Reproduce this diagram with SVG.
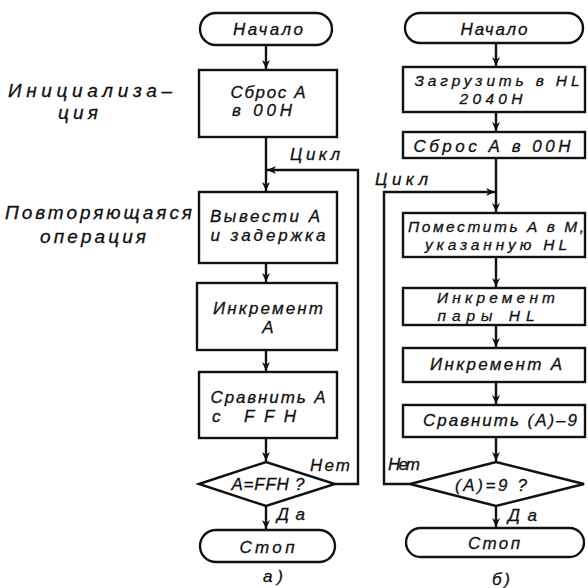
<svg xmlns="http://www.w3.org/2000/svg" width="588" height="588" viewBox="0 0 588 588">
<style>
.s{fill:none;stroke:#111;stroke-width:2.4}
.n{fill:#fff;stroke:#111;stroke-width:2.4}
text{font-family:"Liberation Sans",Arial,sans-serif;font-style:italic;font-size:17px;fill:#111;stroke:#111;stroke-width:0.3}
.c{text-anchor:middle}
.l{font-size:19px}
.t{font-size:15.5px}
</style>
<defs>
<marker id="a" viewBox="0 0 10 10" refX="10" refY="5" markerWidth="10" markerHeight="9" markerUnits="userSpaceOnUse" orient="auto">
<path d="M0,0.5 L10,5 L0,9.5 L3,5 Z" fill="#111"/>
</marker>
</defs>
<rect width="588" height="588" fill="#fff"/>

<g id="connectors">
<path class="s" d="M266,45 V69" marker-end="url(#a)"/>
<path class="s" d="M266,137 V191" marker-end="url(#a)"/>
<path class="s" d="M335,484 H358 V170 H267" marker-end="url(#a)"/>
<path class="s" d="M266,263 V282" marker-end="url(#a)"/>
<path class="s" d="M266,350 V371" marker-end="url(#a)"/>
<path class="s" d="M266,438 V461" marker-end="url(#a)"/>
<path class="s" d="M266,506 V529" marker-end="url(#a)"/>

<path class="s" d="M496,43 V66" marker-end="url(#a)"/>
<path class="s" d="M496,112 V131" marker-end="url(#a)"/>
<path class="s" d="M496,158 V212" marker-end="url(#a)"/>
<path class="s" d="M410,484 H384 V192 H495" marker-end="url(#a)"/>
<path class="s" d="M496,257 V287" marker-end="url(#a)"/>
<path class="s" d="M496,325 V347" marker-end="url(#a)"/>
<path class="s" d="M496,382 V404" marker-end="url(#a)"/>
<path class="s" d="M496,437 V461" marker-end="url(#a)"/>
<path class="s" d="M496,506 V527" marker-end="url(#a)"/>
</g>

<g id="labels">
<text class="l" x="8" y="97" textLength="164" lengthAdjust="spacing">Инициализа–</text>
<text class="l" x="58" y="119" textLength="40" lengthAdjust="spacing">ция</text>
<text class="l" x="5" y="219" textLength="187" lengthAdjust="spacing">Повторяющаяся</text>
<text class="l" x="40" y="243" textLength="106" lengthAdjust="spacing">операция</text>
<text x="290" y="160" textLength="50" lengthAdjust="spacing">Цикл</text>
<text x="310" y="471" textLength="40" lengthAdjust="spacing">Нет</text>
<text x="277" y="520" textLength="28" lengthAdjust="spacing">Да</text>
<text x="263" y="582" textLength="20" lengthAdjust="spacing">а)</text>
<text x="375" y="185" textLength="53" lengthAdjust="spacing">Цикл</text>
<text x="388" y="470" textLength="32" lengthAdjust="spacing">Нет</text>
<text x="508" y="521" textLength="29" lengthAdjust="spacing">Да</text>
<text x="492" y="585" textLength="18" lengthAdjust="spacing">б)</text>
</g>

<g id="a-start">
<rect class="n" x="200" y="13" width="132" height="32" rx="16"/>
<text class="c" x="268" y="35" textLength="70" lengthAdjust="spacing">Начало</text>
</g>
<g id="a-reset">
<rect class="n" x="199" y="70" width="138" height="67"/>
<text class="c" x="268" y="98" textLength="75" lengthAdjust="spacing">Сброс А</text>
<text class="c" x="262" y="116" textLength="60" lengthAdjust="spacing">в 00Н</text>
</g>
<g id="a-output">
<rect class="n" x="199" y="192" width="138" height="71"/>
<text class="c" x="265" y="222" textLength="110" lengthAdjust="spacing">Вывести А</text>
<text class="c" x="268" y="241" textLength="115" lengthAdjust="spacing">и задержка</text>
</g>
<g id="a-inc">
<rect class="n" x="197" y="283" width="140" height="67"/>
<text class="c" x="268" y="314" textLength="110" lengthAdjust="spacing">Инкремент</text>
<text class="c" x="268" y="333">А</text>
</g>
<g id="a-cmp">
<rect class="n" x="199" y="372" width="138" height="66"/>
<text class="c" x="268" y="403" textLength="115" lengthAdjust="spacing">Сравнить А</text>
<text class="c" x="254" y="422" textLength="84" lengthAdjust="spacing">с FFH</text>
</g>
<g id="a-test">
<polygon class="n" points="199,484 266,462 335,484 266,506"/>
<text class="c" x="268" y="490" textLength="73" lengthAdjust="spacing">A=FFH ?</text>
</g>
<g id="a-stop">
<rect class="n" x="200" y="530" width="135" height="32" rx="16"/>
<text class="c" x="267" y="553" textLength="55" lengthAdjust="spacing">Стоп</text>
</g>

<g id="b-start">
<rect class="n" x="405" y="13" width="178" height="30" rx="15"/>
<text class="c" x="494" y="35" textLength="67" lengthAdjust="spacing">Начало</text>
</g>
<g id="b-load">
<rect class="n" x="403" y="67" width="182" height="45"/>
<text class="c t" x="497" y="86" textLength="165" lengthAdjust="spacing">Загрузить в HL</text>
<text class="c t" x="491" y="104" textLength="63" lengthAdjust="spacing">2040H</text>
</g>
<g id="b-reset">
<rect class="n" x="403" y="132" width="182" height="26"/>
<text class="c" x="492" y="152" textLength="157" lengthAdjust="spacing">Сброс А в 00Н</text>
</g>
<g id="b-store">
<rect class="n" x="403" y="213" width="182" height="44"/>
<text class="c t" x="496" y="232" textLength="176" lengthAdjust="spacing">Поместить А в М,</text>
<text class="c t" x="496" y="250" textLength="142" lengthAdjust="spacing">указанную HL</text>
</g>
<g id="b-inchl">
<rect class="n" x="403" y="288" width="182" height="37"/>
<text class="c t" x="496" y="303" textLength="118" lengthAdjust="spacing">Инкремент</text>
<text class="c t" x="486" y="321" textLength="97" lengthAdjust="spacing">пары HL</text>
</g>
<g id="b-inca">
<rect class="n" x="403" y="348" width="182" height="34"/>
<text class="c" x="496" y="370" textLength="132" lengthAdjust="spacing">Инкремент А</text>
</g>
<g id="b-cmp">
<rect class="n" x="403" y="405" width="182" height="32"/>
<text class="c" x="500" y="426" textLength="154" lengthAdjust="spacing">Сравнить (A)–9</text>
</g>
<g id="b-test">
<polygon class="n" points="410,484 496,462 584,484 496,506"/>
<text class="c" x="491" y="491" textLength="72" lengthAdjust="spacing">(A)=9 ?</text>
</g>
<g id="b-stop">
<rect class="n" x="406" y="528" width="178" height="29" rx="14.5"/>
<text class="c" x="494" y="549" textLength="52" lengthAdjust="spacing">Стоп</text>
</g>
</svg>
